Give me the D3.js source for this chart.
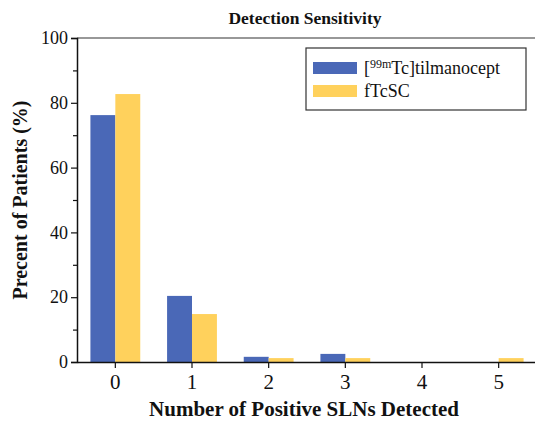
<!DOCTYPE html>
<html>
<head>
<meta charset="utf-8">
<script src="https://cdn.jsdelivr.net/npm/d3@7"></script>
<style>
  body { margin: 0; background: #fff; }
  svg text { font-family: "Liberation Serif", "DejaVu Serif", serif !important; fill: #111; }
</style>
</head>
<body>
<div id="chart"></div>
<script>
const categories = ["0", "1", "2", "3", "4", "5"];
const tilmanocept = [76.2, 20.4, 1.6, 2.5, 0, 0];
const ftcsc = [82.7, 14.8, 1.2, 1.2, 0, 1.2];
const yTicks = [0, 20, 40, 60, 80, 100];

const width = 535;
const height = 423;
const margin = { top: 38, right: -2, bottom: 61, left: 77 };

const svg = d3.select("#chart").append("svg")
    .attr("width", width)
    .attr("height", height);

const x = d3.scaleBand()
    .domain(categories)
    .range([margin.left, width - margin.right])
    .paddingInner(0.35)
    .paddingOuter(0.175);

const y = d3.scaleLinear()
    .domain([0, 100])
    .range([height - margin.bottom, margin.top]);

const series = [
  { name: "tilmanocept", values: tilmanocept, color: "#4a68b7" },
  { name: "fTcSC", values: ftcsc, color: "#ffd15c" }
];

const barW = x.bandwidth() / 2;

series.forEach((s, si) => {
  svg.append("g").selectAll("rect")
      .data(s.values)
      .join("rect")
      .attr("x", (d, i) => x(categories[i]) + si * barW)
      .attr("y", d => y(d))
      .attr("width", barW)
      .attr("height", d => y(0) - y(d))
      .attr("fill", s.color);
});

// top frame line
svg.append("line")
    .attr("x1", margin.left).attr("x2", width)
    .attr("y1", y(100)).attr("y2", y(100))
    .attr("stroke", "#333").attr("stroke-width", 1.2);

// y axis
svg.append("g")
    .attr("class", "y-axis")
    .attr("transform", `translate(${margin.left},0)`)
    .call(d3.axisLeft(y).tickValues(yTicks).tickSize(6).tickPadding(3));
svg.append("g")
    .attr("transform", `translate(${margin.left},0)`)
    .call(d3.axisLeft(y).tickValues([10, 30, 50, 70, 90]).tickSize(4).tickFormat(""))
    .call(g => g.select(".domain").remove());

// x axis
svg.append("g")
    .attr("class", "x-axis")
    .attr("transform", `translate(0,${y(0)})`)
    .call(d3.axisBottom(x).tickSize(6).tickSizeOuter(0).tickPadding(6));

svg.selectAll(".domain").attr("stroke", "#111").attr("stroke-width", 1.5);
svg.selectAll(".tick line").attr("stroke", "#111").attr("stroke-width", 1.2);
svg.selectAll(".y-axis .tick text").style("font-size", "18px");
svg.selectAll(".x-axis .tick text").style("font-size", "21px");

// title
svg.append("text")
    .attr("x", 305).attr("y", 24)
    .attr("text-anchor", "middle")
    .attr("font-weight", "bold")
    .style("font-size", "17.5px")
    .text("Detection Sensitivity");

svg.append("text")
    .attr("x", 304).attr("y", 416)
    .attr("text-anchor", "middle")
    .attr("font-weight", "bold")
    .style("font-size", "21px")
    .text("Number of Positive SLNs Detected");

svg.append("text")
    .attr("transform", `translate(27,${(y(0) + y(100)) / 2}) rotate(-90)`)
    .attr("text-anchor", "middle")
    .attr("font-weight", "bold")
    .style("font-size", "20px")
    .text("Precent of Patients (%)");

// legend
const legend = svg.append("g").attr("transform", "translate(306,48)");
legend.append("rect")
    .attr("width", 220).attr("height", 62)
    .attr("fill", "#fff").attr("stroke", "#333").attr("stroke-width", 1.2);

series.forEach((s, i) => {
  const row = legend.append("g").attr("transform", `translate(7,${14 + i * 23})`);
  row.append("rect").attr("width", 44).attr("height", 12).attr("fill", s.color);
  const t = row.append("text").attr("x", 51).attr("y", 12).style("font-size", "18px");
  if (i === 0) {
    t.append("tspan").text("[");
    t.append("tspan").style("font-size", "12px").attr("dy", -6).text("99m");
    t.append("tspan").attr("dy", 6).text("Tc]tilmanocept");
  } else {
    t.text(s.name);
  }
});
</script>
</body>
</html>
